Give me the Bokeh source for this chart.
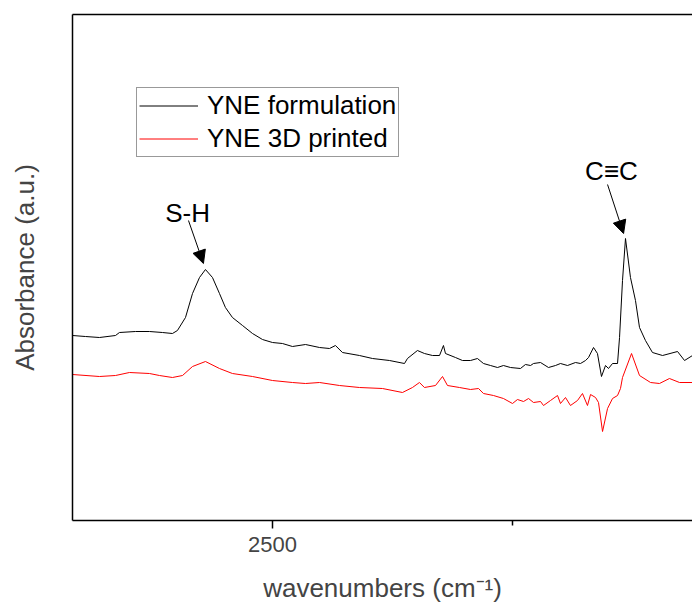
from bokeh.plotting import figure
from bokeh.models import Range1d, LinearAxis, FixedTicker, Arrow, NormalHead, Label
from bokeh.embed import file_html
from bokeh.resources import INLINE

# FTIR absorbance spectra (arbitrary units) in the thiol / alkyne region
formulation_wn = [2708.3, 2694.8, 2680.2, 2663.5, 2659.4, 2642.7, 2628.1, 2614.6, 2604.2, 2599.0,
                  2590.6, 2583.3, 2576.0, 2569.8, 2562.5, 2555.2, 2549.0, 2541.7, 2531.2, 2520.8,
                  2510.4, 2500.0, 2489.6, 2479.2, 2465.6, 2451.0, 2440.6, 2434.4, 2427.1, 2409.4,
                  2395.8, 2378.1, 2362.5, 2359.4, 2349.0, 2341.7, 2333.3, 2326.0, 2321.9, 2319.8,
                  2309.4, 2302.1, 2293.7, 2286.5, 2280.2, 2272.9, 2265.6, 2259.4, 2252.1, 2241.7,
                  2236.5, 2231.2, 2228.1, 2220.8, 2212.5, 2205.2, 2200.0, 2192.7, 2184.4, 2179.2,
                  2173.9, 2170.8, 2165.6, 2161.5, 2157.3, 2153.1, 2150.0, 2145.8, 2140.6, 2138.5,
                  2135.4, 2132.3, 2127.1, 2121.9, 2117.7, 2111.5, 2104.2, 2093.7, 2078.1, 2070.8,
                  2062.5]
formulation_abs = [0.185, 0.184, 0.183, 0.185, 0.188, 0.189, 0.189, 0.188, 0.187, 0.190,
                   0.203, 0.227, 0.243, 0.251, 0.243, 0.227, 0.213, 0.203, 0.195, 0.187,
                   0.181, 0.178, 0.177, 0.174, 0.176, 0.173, 0.172, 0.175, 0.168, 0.165,
                   0.162, 0.160, 0.157, 0.162, 0.170, 0.167, 0.165, 0.165, 0.175, 0.167,
                   0.163, 0.160, 0.160, 0.162, 0.157, 0.155, 0.153, 0.155, 0.153, 0.152,
                   0.156, 0.155, 0.157, 0.158, 0.153, 0.155, 0.157, 0.155, 0.158, 0.157,
                   0.160, 0.163, 0.173, 0.167, 0.144, 0.155, 0.152, 0.157, 0.157, 0.183,
                   0.240, 0.282, 0.243, 0.220, 0.193, 0.180, 0.168, 0.165, 0.169, 0.160,
                   0.165]

printed_wn = [2708.3, 2680.2, 2663.5, 2649.0, 2628.1, 2617.7, 2604.2, 2593.7, 2583.3, 2569.8,
              2555.2, 2541.7, 2520.8, 2500.0, 2479.2, 2465.6, 2451.0, 2430.2, 2409.4, 2385.4,
              2364.6, 2354.2, 2346.9, 2341.7, 2330.2, 2322.9, 2317.7, 2305.2, 2293.7, 2285.4,
              2280.2, 2269.8, 2259.4, 2250.0, 2244.8, 2238.5, 2233.3, 2228.1, 2220.8, 2217.7,
              2210.4, 2203.1, 2200.0, 2194.8, 2189.6, 2182.3, 2177.1, 2171.9, 2168.7, 2163.5,
              2160.4, 2156.2, 2151.0, 2145.8, 2140.6, 2137.5, 2135.4, 2126.0, 2117.7, 2106.2,
              2096.9, 2086.5, 2076.0, 2062.5]
printed_abs = [0.146, 0.144, 0.145, 0.148, 0.147, 0.145, 0.143, 0.145, 0.154, 0.159,
               0.152, 0.147, 0.144, 0.140, 0.138, 0.137, 0.138, 0.135, 0.133, 0.132,
               0.128, 0.133, 0.138, 0.133, 0.135, 0.144, 0.135, 0.133, 0.131, 0.132,
               0.127, 0.125, 0.122, 0.117, 0.121, 0.119, 0.122, 0.118, 0.119, 0.115,
               0.120, 0.125, 0.117, 0.123, 0.115, 0.120, 0.127, 0.115, 0.126, 0.123,
               0.118, 0.089, 0.112, 0.122, 0.125, 0.132, 0.143, 0.167, 0.145, 0.138,
               0.137, 0.142, 0.138, 0.138]

series_names = ["YNE formulation", "YNE 3D printed"]
x_ticks = [2500]
x_minor_ticks = [2250]

FONT = "Liberation Sans"

p = figure(width=692, height=606, output_backend="svg", toolbar_location=None,
           x_range=Range1d(2708.3, 2062.5), y_range=Range1d(0, 0.506),
           x_axis_type=None, y_axis_type=None,
           min_border_left=72, min_border_right=0, min_border_top=14, min_border_bottom=86)
p.outline_line_color = None
p.background_fill_color = "white"
p.border_fill_color = "white"

xaxis = LinearAxis(ticker=FixedTicker(ticks=x_ticks, minor_ticks=x_minor_ticks),
                   axis_label="wavenumbers (cm\u207b\u00b9)")
xaxis.axis_line_width = 1.5
xaxis.major_tick_out = 8
xaxis.major_tick_in = 0
xaxis.minor_tick_out = 5
xaxis.minor_tick_in = 0
xaxis.major_tick_line_width = 1.5
xaxis.minor_tick_line_width = 1.5
xaxis.major_label_text_font = FONT
xaxis.major_label_text_font_size = "22px"
xaxis.major_label_standoff = 8
xaxis.axis_label_text_font = FONT
xaxis.axis_label_text_font_size = "26px"
xaxis.axis_label_text_font_style = "normal"
xaxis.axis_label_standoff = 18
p.add_layout(xaxis, "below")

yaxis = LinearAxis(ticker=FixedTicker(ticks=[]), axis_label="Absorbance (a.u.)")
yaxis.axis_line_width = 1.5
yaxis.major_tick_out = 0
yaxis.major_tick_in = 0
yaxis.minor_tick_out = 0
yaxis.minor_tick_in = 0
yaxis.major_label_text_font_size = "0px"
yaxis.axis_label_text_font = FONT
yaxis.axis_label_text_font_size = "26px"
yaxis.axis_label_text_font_style = "normal"
yaxis.axis_label_standoff = 33
p.add_layout(yaxis, "left")

top = LinearAxis(ticker=FixedTicker(ticks=[]))
top.axis_line_width = 1.5
top.major_tick_out = 0
top.major_tick_in = 0
top.minor_tick_out = 0
top.minor_tick_in = 0
top.major_label_text_font_size = "0px"
p.add_layout(top, "above")

p.line(formulation_wn, formulation_abs, line_color="black", line_width=1,
       legend_label=series_names[0])
p.line(printed_wn, printed_abs, line_color="#ff0000", line_width=1,
       legend_label=series_names[1])

# band assignments with arrows pointing at the peak maxima
sh_i = formulation_abs.index(max(formulation_abs[:30]))
cc_i = formulation_abs.index(max(formulation_abs))
sh_x, sh_y = formulation_wn[sh_i], formulation_abs[sh_i]
cc_x, cc_y = formulation_wn[cc_i], formulation_abs[cc_i]

p.add_layout(Arrow(x_start=sh_x + 17.7, y_start=sh_y + 0.049, x_end=sh_x + 2.1, y_end=sh_y + 0.006,
                   line_width=1, line_color="black",
                   end=NormalHead(size=13, fill_color="black", line_color="black", line_width=1)))
p.add_layout(Arrow(x_start=cc_x + 18.7, y_start=cc_y + 0.054, x_end=cc_x + 2.0, y_end=cc_y + 0.005,
                   line_width=1, line_color="black",
                   end=NormalHead(size=13, fill_color="black", line_color="black", line_width=1)))

p.add_layout(Label(x=sh_x + 18.7, y=sh_y + 0.057, text="S-H", text_align="center",
                   text_baseline="alphabetic", text_font=FONT, text_font_size="26px",
                   text_color="black"))
p.add_layout(Label(x=cc_x + 14.6, y=cc_y + 0.068, text="C\u2261C", text_align="center",
                   text_baseline="alphabetic", text_font=FONT, text_font_size="26px",
                   text_color="black"))

leg = p.legend[0]
leg.location = (64, 363)
leg.label_text_font = FONT
leg.label_text_font_size = "26px"
leg.label_text_color = "black"
leg.glyph_width = 59
leg.glyph_height = 29
leg.label_height = 29
leg.label_standoff = 9
leg.padding = 2
leg.spacing = 2
leg.margin = 0
leg.border_line_color = "#333333"
leg.border_line_width = 1
leg.background_fill_color = "white"
leg.background_fill_alpha = 1

open("out.html", "w").write(file_html(p, INLINE))
